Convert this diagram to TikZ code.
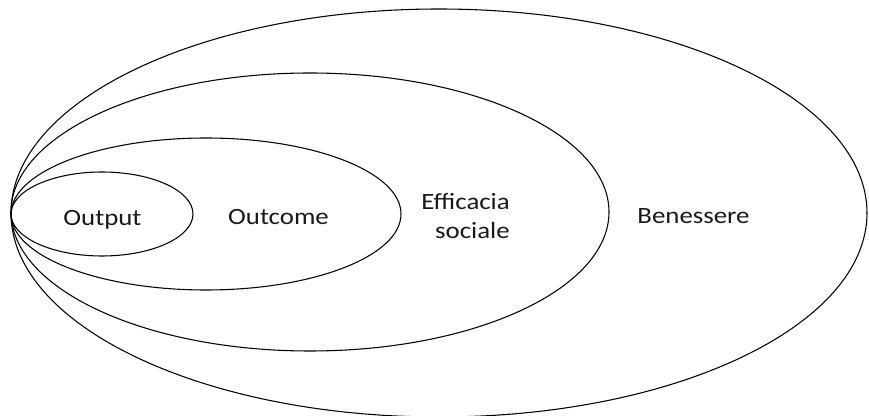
\documentclass[tikz,border=0pt]{standalone}
\usepackage{fontspec}
\setmainfont{Carlito}[FakeStretch=1.15]
\usepackage{tikz}
\usetikzlibrary{calc}
\usetikzlibrary{positioning}

\tikzset{
	ring/.style={draw=black, line width=0.8pt},
	label/.style={inner sep=0pt, text=black!90, font=\fontsize{17.5}{21.75}\selectfont},
}

\begin{document}
\begin{tikzpicture}[x=0.75pt, y=-0.75pt]
	%\draw [help lines, step=10, gray] (0,0) grid (869, 416);
	\useasboundingbox (0,0) rectangle (869,416);

	\draw [ring] (102,214) ellipse (91 and 42);
	\draw [ring] (206,214) ellipse (195 and 76);
	\draw [ring] (310,212) ellipse (299 and 139);
	\draw [ring] (439,213) ellipse (428 and 204);

	\node (output) [label, anchor=base] at (102.5,226) {Output};
	\node (outcome) [label, anchor=base] at (278.5,225) {Outcome};
	\node (efficacia) [label, anchor=east, align=right] at (510,216) {Efficacia\\sociale};
	\node (benessere) [label, anchor=base] at (693.5,224) {Benessere};

	\end{tikzpicture}
\end{document}
